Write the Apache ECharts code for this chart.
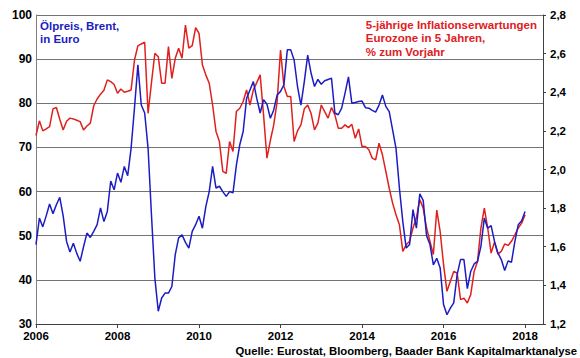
<!DOCTYPE html>
<html>
<head>
<meta charset="utf-8">
<script src="https://cdn.jsdelivr.net/npm/echarts@6/dist/echarts.min.js"></script>
<style>
html,body{margin:0;padding:0;background:#fff;}
#c{width:580px;height:358px;}
</style>
</head>
<body>
<div id="c"></div>
<script>
// Monthly data, Jan 2006 .. Jan 2018
const startYear = 2006;
const brentEur = [
48,54,52,54.5,57.2,55,57,58.7,54.5,48.7,46.3,48.3,
46,44.2,47.5,50.6,49.6,51,52.5,56.3,53.2,55.5,62.4,60.4,
64.2,62.1,65.7,63.6,69.8,79,88.7,79.6,77.8,69.8,54.7,40.4,
32.9,35.9,37,37,38.5,45.7,49.5,50.2,48.5,47.2,51,52.5,
54.4,51.7,56.6,60,65.7,60.8,61.2,60,58.9,60,59.7,66,
70.6,73.6,81.1,83,84.9,81.1,77.8,80.8,79.8,76.6,78.5,81.9,
82.7,84.2,92.1,92.1,89.8,83.8,79.6,84.9,90.9,86.8,83.8,85.4,
84.3,85.1,85.4,85.7,77.8,77.4,78.9,82.3,86,80,80.2,80.4,
80.5,79,78.9,78.4,78,79.6,81.9,79.3,78.1,74,69.8,60.8,
53.2,47.2,48,55.9,51.7,59.5,58,50,48,43.4,44.9,42.7,
34.4,32.1,33.6,34.8,41.2,44.6,44.6,38,41.9,43.6,44.2,47.6,
54,51.7,52.3,48.7,46.1,44.6,42.1,44.3,44,48.7,52.5,53.4,
55.5
];
const inflExp = [
2.176,2.252,2.2,2.21,2.222,2.314,2.321,2.26,2.205,2.25,2.266,2.262,
2.255,2.248,2.205,2.225,2.24,2.33,2.365,2.39,2.41,2.464,2.455,2.44,
2.395,2.417,2.4,2.405,2.412,2.567,2.64,2.65,2.659,2.291,2.45,2.602,
2.584,2.447,2.447,2.636,2.472,2.576,2.628,2.576,2.748,2.628,2.641,2.734,
2.705,2.541,2.49,2.447,2.334,2.197,2.145,1.99,1.98,2.145,2.093,2.3,
2.317,2.352,2.412,2.334,2.412,2.45,2.49,2.283,2.059,2.15,2.231,2.352,
2.619,2.43,2.378,2.378,2.145,2.2,2.231,2.314,2.334,2.29,2.205,2.24,
2.334,2.3,2.266,2.321,2.283,2.214,2.214,2.231,2.217,2.234,2.162,2.21,
2.119,2.119,2.102,2.059,2.05,2.136,2.076,1.99,1.903,1.826,1.766,1.714,
1.576,1.61,1.628,1.697,1.75,1.845,1.8,1.697,1.628,1.56,1.79,1.679,
1.507,1.369,1.421,1.472,1.464,1.326,1.334,1.309,1.352,1.472,1.524,1.697,
1.8,1.697,1.567,1.624,1.562,1.576,1.614,1.607,1.628,1.662,1.697,1.722,
1.766
];
const xTickYears = [2006, 2008, 2010, 2012, 2014, 2016, 2018];
const leftTicks = [30, 40, 50, 60, 70, 80, 90, 100];
const rightTicks = [1.2, 1.4, 1.6, 1.8, 2.0, 2.2, 2.4, 2.6, 2.8];
const blueLabel = 'Ölpreis, Brent,\nin Euro';
const redLabel = '5-jährige Inflationserwartungen\nEurozone in 5 Jahren,\n% zum Vorjahr';
const sourceLabel = 'Quelle: Eurostat, Bloomberg, Baader Bank Kapitalmarktanalyse';

const toXY = arr => arr.map((v, i) => [startYear + i / 12, v]);
const FONT = '"Liberation Sans", Arial, sans-serif';

const chart = echarts.init(document.getElementById('c'), null, {renderer: 'svg'});
chart.setOption({
  animation: false,
  backgroundColor: '#fff',
  grid: {left: 36, right: 37, top: 15, bottom: 34, containLabel: false},
  xAxis: {
    type: 'value', min: 2006, max: 2018.44, interval: 2,
    axisLine: {show: true, lineStyle: {color: '#404040', width: 1}},
    axisTick: {show: true, length: 4, lineStyle: {color: '#404040'}},
    splitLine: {show: false},
    axisLabel: {
      color: '#000', fontFamily: FONT, fontWeight: 'bold', fontSize: 11.5, margin: 6,
      showMaxLabel: false,
      formatter: v => xTickYears.includes(Math.round(v * 1000) / 1000) ? String(Math.round(v)) : ''
    }
  },
  yAxis: [{
    type: 'value', min: leftTicks[0], max: leftTicks[leftTicks.length - 1], interval: 10,
    axisLine: {show: true, lineStyle: {color: '#808080'}},
    axisTick: {show: false},
    splitLine: {show: true, lineStyle: {color: '#737373', width: 1}},
    axisLabel: {color: '#000', fontFamily: FONT, fontWeight: 'bold', fontSize: 12, margin: 4}
  }, {
    type: 'value', min: rightTicks[0], max: rightTicks[rightTicks.length - 1], interval: 0.2,
    position: 'right',
    axisLine: {show: true, lineStyle: {color: '#404040'}},
    axisTick: {show: true, length: 3, inside: false, lineStyle: {color: '#404040'}},
    splitLine: {show: false},
    axisLabel: {color: '#000', fontFamily: FONT, fontWeight: 'bold', fontSize: 11.5, margin: 7,
      formatter: v => v.toFixed(1).replace('.', ',')}
  }],
  series: [{
    name: 'Inflationserwartungen', type: 'line', yAxisIndex: 1,
    data: toXY(inflExp), symbol: 'none', smooth: false,
    lineStyle: {color: '#e0201e', width: 1.5}
  }, {
    name: 'Brent', type: 'line', yAxisIndex: 0,
    data: toXY(brentEur), symbol: 'none', smooth: false,
    lineStyle: {color: '#1c1cc4', width: 1.5}
  }],
  graphic: [{
    type: 'text', left: 40, top: 19,
    style: {text: blueLabel, fill: '#1c1cc4', font: 'bold 11.5px ' + FONT, lineHeight: 13}
  }, {
    type: 'text', right: 43, top: 18,
    style: {text: redLabel, fill: '#e0201e', font: 'bold 11.5px ' + FONT, lineHeight: 13.5, align: 'right'}
  }, {
    type: 'text', right: 3, top: 345,
    style: {text: sourceLabel, fill: '#000', font: 'bold 11.3px ' + FONT, align: 'right'}
  }]
});
</script>
</body>
</html>
